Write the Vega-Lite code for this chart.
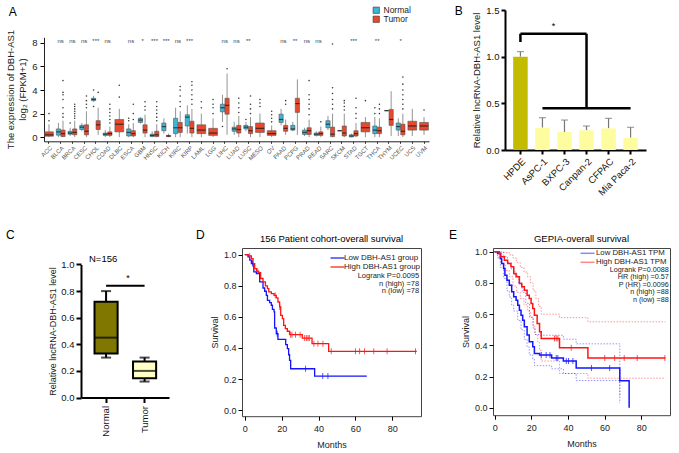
{
"$schema":"https://vega.github.io/schema/vega-lite/v6.json",
"background":"white",
"padding":{"left":5,"top":5,"right":2,"bottom":2},
"config":{
 "font":"Liberation Sans",
 "view":{"stroke":null},
 "axis":{"grid":false,"domainColor":"#000","tickColor":"#000","labelColor":"#222","titleColor":"#222","titleFontWeight":"normal","labelFontSize":9,"titleFontSize":9,"labelFont":"Liberation Sans","titleFont":"Liberation Sans"},
 "title":{"fontWeight":"normal","color":"#000","font":"Liberation Sans"},
 "legend":{"padding":0,"labelFont":"Liberation Sans","labelColor":"#222"}
},
"datasets":{
 "boxP":[
  {"cancer":"BLCA","group":"Normal","lw":0,"q1":0.17,"med":0.45,"q3":0.7,"uw":1.2},
  {"cancer":"BLCA","group":"Tumor","lw":0,"q1":0.05,"med":0.3,"q3":0.6,"uw":1.4},
  {"cancer":"BRCA","group":"Normal","lw":0.1,"q1":0.25,"med":0.35,"q3":0.5,"uw":0.8},
  {"cancer":"BRCA","group":"Tumor","lw":0,"q1":0.2,"med":0.4,"q3":0.7,"uw":1.4},
  {"cancer":"CESC","group":"Normal","lw":0.5,"q1":0.65,"med":0.85,"q3":1.0,"uw":1.2},
  {"cancer":"CESC","group":"Tumor","lw":0,"q1":0.2,"med":0.5,"q3":1.05,"uw":2.2},
  {"cancer":"CHOL","group":"Normal","lw":3.0,"q1":3.1,"med":3.2,"q3":3.3,"uw":3.5},
  {"cancer":"CHOL","group":"Tumor","lw":0.2,"q1":0.65,"med":1.05,"q3":1.4,"uw":2.5},
  {"cancer":"COAD","group":"Normal","lw":0,"q1":0.15,"med":0.25,"q3":0.35,"uw":0.6},
  {"cancer":"COAD","group":"Tumor","lw":0,"q1":0.15,"med":0.3,"q3":0.45,"uw":0.9},
  {"cancer":"ESCA","group":"Normal","lw":0,"q1":0.1,"med":0.4,"q3":0.7,"uw":1.1},
  {"cancer":"ESCA","group":"Tumor","lw":0,"q1":0.1,"med":0.3,"q3":0.55,"uw":1.2},
  {"cancer":"GBM","group":"Normal","lw":1.15,"q1":1.25,"med":1.45,"q3":1.6,"uw":1.7},
  {"cancer":"GBM","group":"Tumor","lw":0,"q1":0.35,"med":0.6,"q3":1.05,"uw":1.9},
  {"cancer":"HNSC","group":"Normal","lw":0,"q1":0.05,"med":0.15,"q3":0.25,"uw":0.5},
  {"cancer":"HNSC","group":"Tumor","lw":0,"q1":0.05,"med":0.2,"q3":0.5,"uw":1.1},
  {"cancer":"KICH","group":"Normal","lw":0.3,"q1":0.55,"med":0.9,"q3":1.2,"uw":1.6},
  {"cancer":"KICH","group":"Tumor","lw":0,"q1":0.05,"med":0.1,"q3":0.15,"uw":0.3},
  {"cancer":"KIRC","group":"Normal","lw":0,"q1":0.3,"med":0.8,"q3":1.6,"uw":2.5},
  {"cancer":"KIRC","group":"Tumor","lw":0,"q1":0.4,"med":0.8,"q3":1.25,"uw":2.2},
  {"cancer":"KIRP","group":"Normal","lw":0.3,"q1":0.95,"med":1.7,"q3":1.9,"uw":2.7},
  {"cancer":"KIRP","group":"Tumor","lw":0,"q1":0.35,"med":0.75,"q3":1.35,"uw":2.4},
  {"cancer":"LIHC","group":"Normal","lw":1.3,"q1":2.15,"med":2.5,"q3":2.8,"uw":3.6},
  {"cancer":"LIHC","group":"Tumor","lw":0.2,"q1":1.95,"med":2.7,"q3":3.3,"uw":5.4},
  {"cancer":"LUAD","group":"Normal","lw":0.2,"q1":0.5,"med":0.7,"q3":0.85,"uw":1.3},
  {"cancer":"LUAD","group":"Tumor","lw":0,"q1":0.35,"med":0.65,"q3":1.0,"uw":1.8},
  {"cancer":"LUSC","group":"Normal","lw":0.5,"q1":0.7,"med":0.85,"q3":1.0,"uw":1.3},
  {"cancer":"LUSC","group":"Tumor","lw":0,"q1":0.3,"med":0.55,"q3":0.9,"uw":1.7},
  {"cancer":"PAAD","group":"Normal","lw":1.0,"q1":1.25,"med":1.5,"q3":1.95,"uw":2.4},
  {"cancer":"PAAD","group":"Tumor","lw":0.2,"q1":0.5,"med":0.75,"q3":1.0,"uw":1.5},
  {"cancer":"PCPG","group":"Normal","lw":0.5,"q1":0.6,"med":0.7,"q3":1.0,"uw":1.3},
  {"cancer":"PCPG","group":"Tumor","lw":0.2,"q1":2.1,"med":2.85,"q3":3.3,"uw":4.9},
  {"cancer":"PRAD","group":"Normal","lw":0.1,"q1":0.23,"med":0.4,"q3":0.6,"uw":0.8},
  {"cancer":"PRAD","group":"Tumor","lw":0,"q1":0.23,"med":0.55,"q3":0.8,"uw":1.5},
  {"cancer":"READ","group":"Normal","lw":0.05,"q1":0.15,"med":0.25,"q3":0.35,"uw":0.5},
  {"cancer":"READ","group":"Tumor","lw":0,"q1":0.15,"med":0.3,"q3":0.45,"uw":0.9},
  {"cancer":"SARC","group":"Normal","lw":0.6,"q1":0.8,"med":1.1,"q3":1.4,"uw":1.8},
  {"cancer":"SARC","group":"Tumor","lw":0,"q1":0.05,"med":0.25,"q3":0.85,"uw":2.0},
  {"cancer":"SKCM","group":"Normal","lw":0.55,"q1":0.55,"med":0.55,"q3":0.55,"uw":0.55},
  {"cancer":"SKCM","group":"Tumor","lw":0,"q1":0.1,"med":0.35,"q3":0.95,"uw":2.0},
  {"cancer":"STAD","group":"Normal","lw":0,"q1":0.02,"med":0.1,"q3":0.2,"uw":0.3},
  {"cancer":"STAD","group":"Tumor","lw":0,"q1":0.1,"med":0.3,"q3":0.55,"uw":1.2},
  {"cancer":"THCA","group":"Normal","lw":0,"q1":0.3,"med":0.6,"q3":0.95,"uw":1.7},
  {"cancer":"THCA","group":"Tumor","lw":0,"q1":0.3,"med":0.55,"q3":0.85,"uw":1.6},
  {"cancer":"THYM","group":"Normal","lw":2.25,"q1":2.25,"med":2.25,"q3":2.25,"uw":2.25},
  {"cancer":"THYM","group":"Tumor","lw":0.1,"q1":1.0,"med":1.5,"q3":2.35,"uw":3.9},
  {"cancer":"UCEC","group":"Normal","lw":0.1,"q1":0.6,"med":0.9,"q3":1.2,"uw":1.6},
  {"cancer":"UCEC","group":"Tumor","lw":0,"q1":0.2,"med":0.5,"q3":1.1,"uw":2.0}
 ],
 "boxS":[
  {"cancer":"ACC","group":"Tumor","lw":0,"q1":0.08,"med":0.2,"q3":0.45,"uw":1.1},
  {"cancer":"DLBC","group":"Tumor","lw":0,"q1":0.45,"med":1.1,"q3":1.5,"uw":2.4},
  {"cancer":"LAML","group":"Tumor","lw":0,"q1":0.3,"med":0.6,"q3":1.05,"uw":2.0},
  {"cancer":"LGG","group":"Tumor","lw":0,"q1":0.15,"med":0.35,"q3":0.75,"uw":1.6},
  {"cancer":"MESO","group":"Tumor","lw":0,"q1":0.4,"med":0.75,"q3":1.2,"uw":2.0},
  {"cancer":"OV","group":"Tumor","lw":0,"q1":0.15,"med":0.3,"q3":0.55,"uw":1.0},
  {"cancer":"TGCT","group":"Tumor","lw":0,"q1":0.45,"med":0.8,"q3":1.25,"uw":1.7},
  {"cancer":"UCS","group":"Tumor","lw":0.1,"q1":0.6,"med":0.95,"q3":1.35,"uw":2.4},
  {"cancer":"UVM","group":"Tumor","lw":0.2,"q1":0.6,"med":0.95,"q3":1.25,"uw":1.7}
 ],
 "outP":[
  {"cancer":"BLCA","group":"Tumor","value":1.7},{"cancer":"BLCA","group":"Tumor","value":2.0},{"cancer":"BLCA","group":"Tumor","value":2.5},{"cancer":"BLCA","group":"Tumor","value":3.2},{"cancer":"BLCA","group":"Tumor","value":3.6},{"cancer":"BLCA","group":"Tumor","value":3.8},{"cancer":"BLCA","group":"Tumor","value":4.8},
  {"cancer":"BRCA","group":"Normal","value":1.2},
  {"cancer":"BRCA","group":"Tumor","value":1.6},{"cancer":"BRCA","group":"Tumor","value":1.8},{"cancer":"BRCA","group":"Tumor","value":2.0},{"cancer":"BRCA","group":"Tumor","value":2.2},{"cancer":"BRCA","group":"Tumor","value":2.4},{"cancer":"BRCA","group":"Tumor","value":2.6},{"cancer":"BRCA","group":"Tumor","value":2.8},
  {"cancer":"CESC","group":"Tumor","value":2.5},{"cancer":"CESC","group":"Tumor","value":2.8},{"cancer":"CESC","group":"Tumor","value":3.1},{"cancer":"CESC","group":"Tumor","value":3.5},
  {"cancer":"CHOL","group":"Normal","value":2.6},{"cancer":"CHOL","group":"Normal","value":4.0},{"cancer":"CHOL","group":"Tumor","value":3.8},
  {"cancer":"COAD","group":"Tumor","value":1.2},{"cancer":"COAD","group":"Tumor","value":1.5},{"cancer":"COAD","group":"Tumor","value":1.8},{"cancer":"COAD","group":"Tumor","value":2.1},{"cancer":"COAD","group":"Tumor","value":2.4},{"cancer":"COAD","group":"Tumor","value":2.8},
  {"cancer":"ESCA","group":"Normal","value":1.4},{"cancer":"ESCA","group":"Normal","value":1.6},{"cancer":"ESCA","group":"Tumor","value":1.5},{"cancer":"ESCA","group":"Tumor","value":2.0},{"cancer":"ESCA","group":"Tumor","value":2.8},
  {"cancer":"GBM","group":"Tumor","value":2.3},{"cancer":"GBM","group":"Tumor","value":2.6},{"cancer":"GBM","group":"Tumor","value":3.0},
  {"cancer":"HNSC","group":"Tumor","value":1.4},{"cancer":"HNSC","group":"Tumor","value":1.7},{"cancer":"HNSC","group":"Tumor","value":2.0},{"cancer":"HNSC","group":"Tumor","value":2.3},{"cancer":"HNSC","group":"Tumor","value":2.6},{"cancer":"HNSC","group":"Tumor","value":3.0},
  {"cancer":"KIRC","group":"Tumor","value":2.6},{"cancer":"KIRC","group":"Tumor","value":3.0},{"cancer":"KIRC","group":"Tumor","value":3.5},{"cancer":"KIRC","group":"Tumor","value":4.0},{"cancer":"KIRC","group":"Tumor","value":4.3},
  {"cancer":"KIRP","group":"Tumor","value":2.8},{"cancer":"KIRP","group":"Tumor","value":3.2},{"cancer":"KIRP","group":"Tumor","value":3.6},{"cancer":"KIRP","group":"Tumor","value":4.0},{"cancer":"KIRP","group":"Tumor","value":4.4},{"cancer":"KIRP","group":"Tumor","value":4.7},
  {"cancer":"LIHC","group":"Normal","value":0.9},{"cancer":"LIHC","group":"Tumor","value":5.8},
  {"cancer":"LUAD","group":"Tumor","value":2.1},{"cancer":"LUAD","group":"Tumor","value":2.5},{"cancer":"LUAD","group":"Tumor","value":2.9},{"cancer":"LUAD","group":"Tumor","value":3.3},
  {"cancer":"LUSC","group":"Normal","value":1.5},{"cancer":"LUSC","group":"Tumor","value":2.0},{"cancer":"LUSC","group":"Tumor","value":2.4},{"cancer":"LUSC","group":"Tumor","value":2.8},{"cancer":"LUSC","group":"Tumor","value":3.5},
  {"cancer":"PAAD","group":"Tumor","value":2.8},{"cancer":"PAAD","group":"Tumor","value":3.1},
  {"cancer":"PRAD","group":"Tumor","value":1.9},{"cancer":"PRAD","group":"Tumor","value":2.4},{"cancer":"PRAD","group":"Tumor","value":2.8},{"cancer":"PRAD","group":"Tumor","value":3.2},{"cancer":"PRAD","group":"Tumor","value":3.6},{"cancer":"PRAD","group":"Tumor","value":4.8},
  {"cancer":"READ","group":"Tumor","value":1.3},
  {"cancer":"SARC","group":"Tumor","value":2.4},{"cancer":"SARC","group":"Tumor","value":2.8},{"cancer":"SARC","group":"Tumor","value":3.2},{"cancer":"SARC","group":"Tumor","value":3.7},{"cancer":"SARC","group":"Tumor","value":4.2},{"cancer":"SARC","group":"Tumor","value":7.9},
  {"cancer":"SKCM","group":"Tumor","value":2.3},{"cancer":"SKCM","group":"Tumor","value":2.6},{"cancer":"SKCM","group":"Tumor","value":2.9},{"cancer":"SKCM","group":"Tumor","value":3.1},
  {"cancer":"STAD","group":"Tumor","value":1.6},{"cancer":"STAD","group":"Tumor","value":2.0},{"cancer":"STAD","group":"Tumor","value":2.5},{"cancer":"STAD","group":"Tumor","value":3.3},
  {"cancer":"THCA","group":"Normal","value":2.0},{"cancer":"THCA","group":"Normal","value":2.5},{"cancer":"THCA","group":"Tumor","value":2.0},{"cancer":"THCA","group":"Tumor","value":2.4},{"cancer":"THCA","group":"Tumor","value":2.8},
  {"cancer":"UCEC","group":"Tumor","value":2.4},{"cancer":"UCEC","group":"Tumor","value":2.8},{"cancer":"UCEC","group":"Tumor","value":3.2},{"cancer":"UCEC","group":"Tumor","value":3.6},{"cancer":"UCEC","group":"Tumor","value":4.0},{"cancer":"UCEC","group":"Tumor","value":4.5},{"cancer":"UCEC","group":"Tumor","value":5.1}
 ],
 "outS":[
  {"cancer":"ACC","value":1.4},{"cancer":"ACC","value":2.0},
  {"cancer":"DLBC","value":3.4},{"cancer":"DLBC","value":4.4},
  {"cancer":"LAML","value":2.5},{"cancer":"LAML","value":3.0},
  {"cancer":"LGG","value":2.0},{"cancer":"LGG","value":2.5},{"cancer":"LGG","value":2.8},{"cancer":"LGG","value":3.2},
  {"cancer":"MESO","value":2.6},{"cancer":"MESO","value":2.9},{"cancer":"MESO","value":3.2},
  {"cancer":"OV","value":1.3},{"cancer":"OV","value":1.6},{"cancer":"OV","value":1.9},{"cancer":"OV","value":2.2},
  {"cancer":"TGCT","value":3.1},
  {"cancer":"UVM","value":2.3}
 ],
 "sigA":[
  {"cancer":"BLCA","sig":"ns"},{"cancer":"BRCA","sig":"ns"},{"cancer":"CESC","sig":"ns"},{"cancer":"CHOL","sig":"***"},{"cancer":"COAD","sig":"ns"},{"cancer":"ESCA","sig":"ns"},{"cancer":"GBM","sig":"*"},{"cancer":"HNSC","sig":"***"},{"cancer":"KICH","sig":"***"},{"cancer":"KIRC","sig":"ns"},{"cancer":"KIRP","sig":"***"},{"cancer":"LIHC","sig":"ns"},{"cancer":"LUAD","sig":"ns"},{"cancer":"LUSC","sig":"**"},{"cancer":"PAAD","sig":"ns"},{"cancer":"PCPG","sig":"**"},{"cancer":"PRAD","sig":"ns"},{"cancer":"READ","sig":"ns"},{"cancer":"STAD","sig":"***"},{"cancer":"THCA","sig":"**"},{"cancer":"UCEC","sig":"*"}
 ],
 "barB":[
  {"cell":"HPDE","value":1.0,"upper":1.054},
  {"cell":"AsPC-1","value":0.239,"upper":0.346},
  {"cell":"BXPC-3","value":0.193,"upper":0.321},
  {"cell":"Canpan-2","value":0.211,"upper":0.257},
  {"cell":"CFPAC","value":0.232,"upper":0.339},
  {"cell":"Mia Paca-2","value":0.132,"upper":0.243}
 ],
 "bracketB":[
  {"from":"HPDE","to":"HPDE","y1":1.157,"y2":1.246},
  {"from":"HPDE","to":"Canpan-2","y1":1.246,"y2":1.246},
  {"from":"Canpan-2","to":"Canpan-2","y1":1.246,"y2":0.446},
  {"from":"AsPC-1","to":"Mia Paca-2","y1":0.446,"y2":0.446}
 ],
 "boxC":[
  {"group":"Normal","lw":0.30,"q1":0.33,"med":0.45,"q3":0.72,"uw":0.80},
  {"group":"Tumor","lw":0.12,"q1":0.145,"med":0.20,"q3":0.27,"uw":0.30}
 ],
 "kmD":[
  {"group":"Low DBH-AS1 group","month":0,"surv":1.0},{"group":"Low DBH-AS1 group","month":1.8,"surv":0.985},{"group":"Low DBH-AS1 group","month":2.7,"surv":0.964},{"group":"Low DBH-AS1 group","month":3.6,"surv":0.942},{"group":"Low DBH-AS1 group","month":4.9,"surv":0.888},{"group":"Low DBH-AS1 group","month":6.3,"surv":0.878},{"group":"Low DBH-AS1 group","month":8.1,"surv":0.824},{"group":"Low DBH-AS1 group","month":9.9,"surv":0.785},{"group":"Low DBH-AS1 group","month":10.8,"surv":0.764},{"group":"Low DBH-AS1 group","month":11.7,"surv":0.738},{"group":"Low DBH-AS1 group","month":12.3,"surv":0.706},{"group":"Low DBH-AS1 group","month":13.5,"surv":0.691},{"group":"Low DBH-AS1 group","month":14.4,"surv":0.674},{"group":"Low DBH-AS1 group","month":15.0,"surv":0.648},{"group":"Low DBH-AS1 group","month":15.9,"surv":0.631},{"group":"Low DBH-AS1 group","month":16.2,"surv":0.528},{"group":"Low DBH-AS1 group","month":17.1,"surv":0.491},{"group":"Low DBH-AS1 group","month":18.0,"surv":0.455},{"group":"Low DBH-AS1 group","month":22.2,"surv":0.421},{"group":"Low DBH-AS1 group","month":23.1,"surv":0.395},{"group":"Low DBH-AS1 group","month":23.8,"surv":0.356},{"group":"Low DBH-AS1 group","month":24.3,"surv":0.32},{"group":"Low DBH-AS1 group","month":24.9,"surv":0.266},{"group":"Low DBH-AS1 group","month":37.9,"surv":0.219},{"group":"Low DBH-AS1 group","month":66.2,"surv":0.219},
  {"group":"High DBH-AS1 group","month":0,"surv":1.0},{"group":"High DBH-AS1 group","month":1.8,"surv":0.991},{"group":"High DBH-AS1 group","month":3.6,"surv":0.974},{"group":"High DBH-AS1 group","month":4.5,"surv":0.942},{"group":"High DBH-AS1 group","month":5.4,"surv":0.91},{"group":"High DBH-AS1 group","month":6.3,"surv":0.893},{"group":"High DBH-AS1 group","month":7.6,"surv":0.884},{"group":"High DBH-AS1 group","month":8.6,"surv":0.846},{"group":"High DBH-AS1 group","month":9.9,"surv":0.824},{"group":"High DBH-AS1 group","month":11.2,"surv":0.799},{"group":"High DBH-AS1 group","month":12.3,"surv":0.781},{"group":"High DBH-AS1 group","month":13.0,"surv":0.76},{"group":"High DBH-AS1 group","month":14.4,"surv":0.749},{"group":"High DBH-AS1 group","month":15.9,"surv":0.738},{"group":"High DBH-AS1 group","month":17.1,"surv":0.721},{"group":"High DBH-AS1 group","month":18.0,"surv":0.695},{"group":"High DBH-AS1 group","month":18.9,"surv":0.663},{"group":"High DBH-AS1 group","month":19.5,"surv":0.609},{"group":"High DBH-AS1 group","month":20.4,"surv":0.588},{"group":"High DBH-AS1 group","month":21.1,"surv":0.545},{"group":"High DBH-AS1 group","month":22.0,"surv":0.524},{"group":"High DBH-AS1 group","month":23.1,"surv":0.507},{"group":"High DBH-AS1 group","month":24.3,"surv":0.485},{"group":"High DBH-AS1 group","month":31.2,"surv":0.463},{"group":"High DBH-AS1 group","month":36.5,"surv":0.427},{"group":"High DBH-AS1 group","month":45.5,"surv":0.378},{"group":"High DBH-AS1 group","month":93.3,"surv":0.378}
 ],
 "censD":[
  {"group":"Low DBH-AS1 group","month":4.2,"surv":0.942},{"group":"Low DBH-AS1 group","month":17.6,"surv":0.491},{"group":"Low DBH-AS1 group","month":33.0,"surv":0.266},{"group":"Low DBH-AS1 group","month":42.3,"surv":0.219},{"group":"Low DBH-AS1 group","month":45.1,"surv":0.219},
  {"group":"High DBH-AS1 group","month":2.7,"surv":0.991},{"group":"High DBH-AS1 group","month":7.0,"surv":0.893},{"group":"High DBH-AS1 group","month":16.5,"surv":0.738},{"group":"High DBH-AS1 group","month":19.0,"surv":0.663},{"group":"High DBH-AS1 group","month":24.9,"surv":0.485},{"group":"High DBH-AS1 group","month":25.6,"surv":0.485},{"group":"High DBH-AS1 group","month":27.5,"surv":0.485},{"group":"High DBH-AS1 group","month":30.0,"surv":0.485},{"group":"High DBH-AS1 group","month":32.5,"surv":0.463},{"group":"High DBH-AS1 group","month":33.4,"surv":0.463},{"group":"High DBH-AS1 group","month":34.3,"surv":0.463},{"group":"High DBH-AS1 group","month":35.0,"surv":0.463},{"group":"High DBH-AS1 group","month":37.5,"surv":0.427},{"group":"High DBH-AS1 group","month":39.7,"surv":0.427},{"group":"High DBH-AS1 group","month":42.4,"surv":0.427},{"group":"High DBH-AS1 group","month":46.9,"surv":0.378},{"group":"High DBH-AS1 group","month":60.1,"surv":0.378},{"group":"High DBH-AS1 group","month":62.3,"surv":0.378},{"group":"High DBH-AS1 group","month":65.0,"surv":0.378},{"group":"High DBH-AS1 group","month":70.0,"surv":0.378},{"group":"High DBH-AS1 group","month":77.2,"surv":0.378},{"group":"High DBH-AS1 group","month":92.6,"surv":0.378}
 ],
 "kmE":[
  {"group":"Low DBH-AS1 TPM","month":0,"surv":1.0},{"group":"Low DBH-AS1 TPM","month":1.6,"surv":0.989},{"group":"Low DBH-AS1 TPM","month":3.1,"surv":0.957},{"group":"Low DBH-AS1 TPM","month":3.8,"surv":0.925},{"group":"Low DBH-AS1 TPM","month":4.9,"surv":0.893},{"group":"Low DBH-AS1 TPM","month":5.6,"surv":0.85},{"group":"Low DBH-AS1 TPM","month":6.7,"surv":0.818},{"group":"Low DBH-AS1 TPM","month":8.0,"surv":0.786},{"group":"Low DBH-AS1 TPM","month":9.3,"surv":0.743},{"group":"Low DBH-AS1 TPM","month":10.4,"surv":0.711},{"group":"Low DBH-AS1 TPM","month":11.7,"surv":0.69},{"group":"Low DBH-AS1 TPM","month":12.6,"surv":0.658},{"group":"Low DBH-AS1 TPM","month":13.5,"surv":0.626},{"group":"Low DBH-AS1 TPM","month":14.4,"surv":0.594},{"group":"Low DBH-AS1 TPM","month":15.3,"surv":0.562},{"group":"Low DBH-AS1 TPM","month":16.2,"surv":0.519},{"group":"Low DBH-AS1 TPM","month":17.7,"surv":0.466},{"group":"Low DBH-AS1 TPM","month":18.9,"surv":0.423},{"group":"Low DBH-AS1 TPM","month":20.8,"surv":0.391},{"group":"Low DBH-AS1 TPM","month":21.7,"surv":0.348},{"group":"Low DBH-AS1 TPM","month":24.5,"surv":0.338},{"group":"Low DBH-AS1 TPM","month":31.1,"surv":0.32},{"group":"Low DBH-AS1 TPM","month":37.5,"surv":0.3},{"group":"Low DBH-AS1 TPM","month":44.5,"surv":0.255},{"group":"Low DBH-AS1 TPM","month":68.3,"surv":0.173},{"group":"Low DBH-AS1 TPM","month":73.4,"surv":0.0},
  {"group":"High DBH-AS1 TPM","month":0,"surv":1.0},{"group":"High DBH-AS1 TPM","month":2.5,"surv":0.989},{"group":"High DBH-AS1 TPM","month":3.4,"surv":0.968},{"group":"High DBH-AS1 TPM","month":5.3,"surv":0.946},{"group":"High DBH-AS1 TPM","month":7.1,"surv":0.925},{"group":"High DBH-AS1 TPM","month":8.9,"surv":0.904},{"group":"High DBH-AS1 TPM","month":10.4,"surv":0.861},{"group":"High DBH-AS1 TPM","month":11.7,"surv":0.84},{"group":"High DBH-AS1 TPM","month":13.5,"surv":0.797},{"group":"High DBH-AS1 TPM","month":14.8,"surv":0.776},{"group":"High DBH-AS1 TPM","month":16.2,"surv":0.754},{"group":"High DBH-AS1 TPM","month":17.7,"surv":0.722},{"group":"High DBH-AS1 TPM","month":18.9,"surv":0.701},{"group":"High DBH-AS1 TPM","month":19.9,"surv":0.669},{"group":"High DBH-AS1 TPM","month":20.8,"surv":0.637},{"group":"High DBH-AS1 TPM","month":21.7,"surv":0.594},{"group":"High DBH-AS1 TPM","month":23.2,"surv":0.541},{"group":"High DBH-AS1 TPM","month":24.5,"surv":0.487},{"group":"High DBH-AS1 TPM","month":25.4,"surv":0.444},{"group":"High DBH-AS1 TPM","month":35.4,"surv":0.385},{"group":"High DBH-AS1 TPM","month":50.9,"surv":0.32},{"group":"High DBH-AS1 TPM","month":93.2,"surv":0.32}
 ],
 "censE":[
  {"group":"Low DBH-AS1 TPM","month":25.4,"surv":0.338},{"group":"Low DBH-AS1 TPM","month":28.1,"surv":0.338},{"group":"Low DBH-AS1 TPM","month":30.2,"surv":0.338},{"group":"Low DBH-AS1 TPM","month":33.6,"surv":0.32},{"group":"Low DBH-AS1 TPM","month":34.5,"surv":0.32},{"group":"Low DBH-AS1 TPM","month":39.1,"surv":0.3},{"group":"Low DBH-AS1 TPM","month":40.3,"surv":0.3},{"group":"Low DBH-AS1 TPM","month":42.7,"surv":0.3},{"group":"Low DBH-AS1 TPM","month":52.8,"surv":0.255},{"group":"Low DBH-AS1 TPM","month":62.8,"surv":0.255},
  {"group":"High DBH-AS1 TPM","month":32.7,"surv":0.444},{"group":"High DBH-AS1 TPM","month":33.6,"surv":0.444},{"group":"High DBH-AS1 TPM","month":34.5,"surv":0.444},{"group":"High DBH-AS1 TPM","month":41.8,"surv":0.385},{"group":"High DBH-AS1 TPM","month":60.1,"surv":0.32},{"group":"High DBH-AS1 TPM","month":65.5,"surv":0.32},{"group":"High DBH-AS1 TPM","month":70.7,"surv":0.32},{"group":"High DBH-AS1 TPM","month":77.8,"surv":0.32},{"group":"High DBH-AS1 TPM","month":92.9,"surv":0.32}
 ],
 "ciE":[
  {"group":"High DBH-AS1 TPM","bound":"upper","month":0,"surv":1.0},{"group":"High DBH-AS1 TPM","bound":"upper","month":5,"surv":0.995},{"group":"High DBH-AS1 TPM","bound":"upper","month":8,"surv":0.98},{"group":"High DBH-AS1 TPM","bound":"upper","month":10,"surv":0.96},{"group":"High DBH-AS1 TPM","bound":"upper","month":12,"surv":0.93},{"group":"High DBH-AS1 TPM","bound":"upper","month":14,"surv":0.9},{"group":"High DBH-AS1 TPM","bound":"upper","month":16,"surv":0.87},{"group":"High DBH-AS1 TPM","bound":"upper","month":18,"surv":0.84},{"group":"High DBH-AS1 TPM","bound":"upper","month":19.5,"surv":0.8},{"group":"High DBH-AS1 TPM","bound":"upper","month":21,"surv":0.75},{"group":"High DBH-AS1 TPM","bound":"upper","month":22.5,"surv":0.7},{"group":"High DBH-AS1 TPM","bound":"upper","month":24,"surv":0.65},{"group":"High DBH-AS1 TPM","bound":"upper","month":25.4,"surv":0.6},{"group":"High DBH-AS1 TPM","bound":"upper","month":35.4,"surv":0.578},{"group":"High DBH-AS1 TPM","bound":"upper","month":50.9,"surv":0.551},{"group":"High DBH-AS1 TPM","bound":"upper","month":93.2,"surv":0.551},
  {"group":"High DBH-AS1 TPM","bound":"lower","month":0,"surv":1.0},{"group":"High DBH-AS1 TPM","bound":"lower","month":2.5,"surv":0.96},{"group":"High DBH-AS1 TPM","bound":"lower","month":4,"surv":0.92},{"group":"High DBH-AS1 TPM","bound":"lower","month":6,"surv":0.88},{"group":"High DBH-AS1 TPM","bound":"lower","month":8,"surv":0.84},{"group":"High DBH-AS1 TPM","bound":"lower","month":10,"surv":0.78},{"group":"High DBH-AS1 TPM","bound":"lower","month":12,"surv":0.74},{"group":"High DBH-AS1 TPM","bound":"lower","month":14,"surv":0.7},{"group":"High DBH-AS1 TPM","bound":"lower","month":16,"surv":0.66},{"group":"High DBH-AS1 TPM","bound":"lower","month":18,"surv":0.62},{"group":"High DBH-AS1 TPM","bound":"lower","month":19.5,"surv":0.58},{"group":"High DBH-AS1 TPM","bound":"lower","month":21,"surv":0.52},{"group":"High DBH-AS1 TPM","bound":"lower","month":22,"surv":0.47},{"group":"High DBH-AS1 TPM","bound":"lower","month":23.5,"surv":0.42},{"group":"High DBH-AS1 TPM","bound":"lower","month":24.5,"surv":0.37},{"group":"High DBH-AS1 TPM","bound":"lower","month":25.4,"surv":0.3},{"group":"High DBH-AS1 TPM","bound":"lower","month":35.4,"surv":0.22},{"group":"High DBH-AS1 TPM","bound":"lower","month":50.9,"surv":0.19},{"group":"High DBH-AS1 TPM","bound":"lower","month":93.2,"surv":0.19},
  {"group":"Low DBH-AS1 TPM","bound":"upper","month":0,"surv":1.0},{"group":"Low DBH-AS1 TPM","bound":"upper","month":3,"surv":0.995},{"group":"Low DBH-AS1 TPM","bound":"upper","month":5,"surv":0.97},{"group":"Low DBH-AS1 TPM","bound":"upper","month":7,"surv":0.93},{"group":"Low DBH-AS1 TPM","bound":"upper","month":9,"surv":0.89},{"group":"Low DBH-AS1 TPM","bound":"upper","month":11,"surv":0.85},{"group":"Low DBH-AS1 TPM","bound":"upper","month":13,"surv":0.8},{"group":"Low DBH-AS1 TPM","bound":"upper","month":15,"surv":0.74},{"group":"Low DBH-AS1 TPM","bound":"upper","month":17,"surv":0.67},{"group":"Low DBH-AS1 TPM","bound":"upper","month":19,"surv":0.58},{"group":"Low DBH-AS1 TPM","bound":"upper","month":21,"surv":0.51},{"group":"Low DBH-AS1 TPM","bound":"upper","month":22,"surv":0.47},{"group":"Low DBH-AS1 TPM","bound":"upper","month":24.5,"surv":0.465},{"group":"Low DBH-AS1 TPM","bound":"upper","month":37.5,"surv":0.44},{"group":"Low DBH-AS1 TPM","bound":"upper","month":44.5,"surv":0.41},{"group":"Low DBH-AS1 TPM","bound":"upper","month":68.3,"surv":0.03},
  {"group":"Low DBH-AS1 TPM","bound":"lower","month":0,"surv":1.0},{"group":"Low DBH-AS1 TPM","bound":"lower","month":1.6,"surv":0.96},{"group":"Low DBH-AS1 TPM","bound":"lower","month":3.1,"surv":0.9},{"group":"Low DBH-AS1 TPM","bound":"lower","month":4.9,"surv":0.83},{"group":"Low DBH-AS1 TPM","bound":"lower","month":6.7,"surv":0.75},{"group":"Low DBH-AS1 TPM","bound":"lower","month":8,"surv":0.71},{"group":"Low DBH-AS1 TPM","bound":"lower","month":9.3,"surv":0.66},{"group":"Low DBH-AS1 TPM","bound":"lower","month":10.4,"surv":0.62},{"group":"Low DBH-AS1 TPM","bound":"lower","month":12.6,"surv":0.56},{"group":"Low DBH-AS1 TPM","bound":"lower","month":14.4,"surv":0.5},{"group":"Low DBH-AS1 TPM","bound":"lower","month":16.2,"surv":0.44},{"group":"Low DBH-AS1 TPM","bound":"lower","month":17.7,"surv":0.39},{"group":"Low DBH-AS1 TPM","bound":"lower","month":18.9,"surv":0.34},{"group":"Low DBH-AS1 TPM","bound":"lower","month":20.8,"surv":0.31},{"group":"Low DBH-AS1 TPM","bound":"lower","month":21.7,"surv":0.27},{"group":"Low DBH-AS1 TPM","bound":"lower","month":31.1,"surv":0.25},{"group":"Low DBH-AS1 TPM","bound":"lower","month":37.5,"surv":0.22},{"group":"Low DBH-AS1 TPM","bound":"lower","month":44.5,"surv":0.175},{"group":"Low DBH-AS1 TPM","bound":"lower","month":68.3,"surv":0.07}
 ]
},
"spacing":31,
"resolve":{"scale":{"color":"independent"},"legend":{"color":"independent"}},
"vconcat":[
 {"spacing":25,"resolve":{"scale":{"color":"independent"},"legend":{"color":"independent"}},"hconcat":[
  {
   "width":385,"height":131.3,
   "title":{"text":"A","anchor":"start","frame":"bounds","fontSize":12,"offset":-13,"dx":3},
   "encoding":{"x":{"field":"cancer","type":"nominal","scale":{"domain":["ACC","BLCA","BRCA","CESC","CHOL","COAD","DLBC","ESCA","GBM","HNSC","KICH","KIRC","KIRP","LAML","LGG","LIHC","LUAD","LUSC","MESO","OV","PAAD","PCPG","PRAD","READ","SARC","SKCM","STAD","TGCT","THCA","THYM","UCEC","UCS","UVM"],"paddingInner":0.25,"paddingOuter":0.05},"axis":{"title":null,"labelAngle":-45,"labelAlign":"right","labelBaseline":"top","labelFontSize":6,"labelColor":"#555","tickSize":2,"tickColor":"#333","labelPadding":1,"domainColor":"#222"}}},
   "layer":[
    {"data":{"name":"boxP"},
     "encoding":{"xOffset":{"field":"group","type":"nominal","scale":{"domain":["Normal","Tumor"],"paddingInner":0.08}},
       "y":{"field":"lw","type":"quantitative","scale":{"domain":[-0.35,10.79],"nice":false,"zero":false},"axis":{"values":[0,2,4,6,8],"title":["The expression of DBH-AS1","log₂ (FPKM+1)"],"titleFontSize":9.5,"titleLineHeight":12,"labelFontSize":9.5,"tickSize":4,"labelPadding":3,"titlePadding":4,"domainColor":"#222","domainDash":[104,100],"titleY":79}}},
     "layer":[
      {"mark":{"type":"rule","color":"#666","strokeWidth":0.7},"encoding":{"y2":{"field":"uw"}}},
      {"mark":{"type":"bar","stroke":"#555","strokeWidth":0.6},"encoding":{"y":{"field":"q1"},"y2":{"field":"q3"},"color":{"field":"group","type":"nominal","scale":{"domain":["Normal","Tumor"],"range":["#3db5d4","#e8482c"]},"legend":{"orient":"none","legendX":328,"legendY":-4,"title":null,"symbolType":"square","symbolSize":40,"labelFontSize":8.5,"rowPadding":-1,"labelOffset":3,"symbolStrokeColor":"#333","symbolStrokeWidth":0.6}}}},
      {"mark":{"type":"tick","color":"#111","thickness":1.2,"size":4.2},"encoding":{"y":{"field":"med"}}},
      {"data":{"name":"outP"},"mark":{"type":"circle","size":2.5,"color":"#222","opacity":0.9},"encoding":{"y":{"field":"value"}}}
     ]},
    {"data":{"name":"boxS"},
     "encoding":{"y":{"field":"lw","type":"quantitative","scale":{"domain":[-0.35,10.79],"nice":false,"zero":false},"axis":{"values":[0,2,4,6,8],"title":["The expression of DBH-AS1","log₂ (FPKM+1)"],"titleFontSize":9.5,"titleLineHeight":12,"labelFontSize":9.5,"tickSize":4,"labelPadding":3,"titlePadding":4,"domainColor":"#222","domainDash":[104,100],"titleY":79}}},
     "layer":[
      {"mark":{"type":"rule","color":"#666","strokeWidth":0.7},"encoding":{"y2":{"field":"uw"}}},
      {"mark":{"type":"bar","stroke":"#555","strokeWidth":0.6},"encoding":{"y":{"field":"q1"},"y2":{"field":"q3"},"color":{"field":"group","type":"nominal","scale":{"domain":["Normal","Tumor"],"range":["#3db5d4","#e8482c"]},"legend":{"orient":"none","legendX":328,"legendY":-4,"title":null,"symbolType":"square","symbolSize":40,"labelFontSize":8.5,"rowPadding":-1,"labelOffset":3,"symbolStrokeColor":"#333","symbolStrokeWidth":0.6}}}},
      {"mark":{"type":"tick","color":"#111","thickness":1.2,"size":8.6},"encoding":{"y":{"field":"med"}}},
      {"data":{"name":"outS"},"mark":{"type":"circle","size":2.5,"color":"#222","opacity":0.9},"encoding":{"y":{"field":"value"}}}
     ]},
    {"data":{"name":"sigA"},"mark":{"type":"text","fontSize":6,"color":"#444"},"encoding":{"y":{"datum":8.2,"type":"quantitative","scale":{"domain":[-0.35,10.79],"nice":false,"zero":false},"axis":{"values":[0,2,4,6,8],"title":["The expression of DBH-AS1","log₂ (FPKM+1)"],"titleFontSize":9.5,"titleLineHeight":12,"labelFontSize":9.5,"tickSize":4,"labelPadding":3,"titlePadding":4,"domainColor":"#222","domainDash":[104,100],"titleY":79}},"text":{"field":"sig"}}}
   ]
  },
  {
   "width":141,"height":140,
   "title":{"text":"B","anchor":"start","frame":"bounds","fontSize":12,"offset":-13,"dx":-17},
   "layer":[
    {"data":{"name":"barB"},
     "encoding":{
      "x":{"field":"cell","type":"nominal","scale":{"domain":["HPDE","AsPC-1","BXPC-3","Canpan-2","CFPAC","Mia Paca-2"],"paddingInner":0.34,"paddingOuter":0.37},"axis":{"title":null,"labelAngle":-45,"labelAlign":"right","labelBaseline":"top","labelFontSize":9.5,"labelColor":"#111","domainWidth":2,"tickWidth":2,"tickSize":4,"labelPadding":2}},
      "y":{"field":"value","type":"quantitative","scale":{"domain":[0,1.5],"nice":false},"axis":{"values":[0,0.5,1,1.5],"format":".1f","title":"Relative lncRNA-DBH-AS1 level","titleFontSize":9.5,"labelFontSize":9.5,"labelColor":"#111","domainWidth":2,"tickWidth":2,"tickSize":4,"titlePadding":4}}
     },
     "layer":[
      {"mark":{"type":"rule","color":"#777","strokeWidth":1.2},"encoding":{"y2":{"field":"upper"}}},
      {"mark":{"type":"bar"},"encoding":{"color":{"field":"cell","type":"nominal","scale":{"domain":["HPDE","AsPC-1","BXPC-3","Canpan-2","CFPAC","Mia Paca-2"],"range":["#c2bb00","#fdfd9f","#fdfd9f","#fdfd9f","#fdfd9f","#fdfd9f"]},"legend":null}}},
      {"mark":{"type":"tick","color":"#777","thickness":1.2,"size":7},"encoding":{"y":{"field":"upper"}}},
      {"data":{"name":"bracketB"},"mark":{"type":"rule","color":"#000","strokeWidth":2.5},"encoding":{"x":{"field":"from"},"x2":{"field":"to"},"y":{"field":"y1"},"y2":{"field":"y2"}}}
     ]},
    {"data":{"values":[{}]},"mark":{"type":"text","text":"*","dx":11,"fontSize":9,"baseline":"middle"},"encoding":{
      "x":{"datum":"AsPC-1","type":"nominal","scale":{"domain":["HPDE","AsPC-1","BXPC-3","Canpan-2","CFPAC","Mia Paca-2"],"paddingInner":0.34,"paddingOuter":0.37},"axis":{"title":null,"labelAngle":-45,"labelAlign":"right","labelBaseline":"top","labelFontSize":9.5,"labelColor":"#111","domainWidth":2,"tickWidth":2,"tickSize":4,"labelPadding":2}},
      "y":{"datum":1.33,"type":"quantitative","scale":{"domain":[0,1.5],"nice":false},"axis":{"values":[0,0.5,1,1.5],"format":".1f","title":"Relative lncRNA-DBH-AS1 level","titleFontSize":9.5,"labelFontSize":9.5,"labelColor":"#111","domainWidth":2,"tickWidth":2,"tickSize":4,"titlePadding":4}}}}
   ]
  }
 ]},
 {"spacing":26,"resolve":{"scale":{"color":"independent"},"legend":{"color":"independent"}},"hconcat":[
  {
   "title":{"text":"C","anchor":"start","frame":"bounds","fontSize":12,"dx":-38,"offset":6.5},
   "vconcat":[{
    "width":125,"height":149.5,
    "title":{"text":"N=156","anchor":"start","frame":"group","fontSize":9.5,"dx":45,"offset":-15},
    "layer":[
     {"data":{"name":"boxC"},
      "encoding":{
       "x":{"field":"group","type":"nominal","scale":{"domain":["Normal","Tumor"],"paddingInner":0.4,"paddingOuter":0.823,"align":0.797},"axis":{"title":null,"labelAngle":-90,"labelAlign":"right","labelBaseline":"middle","labelFontSize":9.5,"labelColor":"#111","domainWidth":2,"domainDash":[0,37,88,200],"tickWidth":2,"tickSize":5,"labelPadding":3}},
       "y":{"field":"lw","type":"quantitative","scale":{"domain":[0,1.124],"nice":false},"axis":{"values":[0,0.2,0.4,0.6,0.8,1.0],"format":".1f","title":"Relative lncRNA-DBH-AS1 level","titleFontSize":9,"titleY":83,"labelFontSize":9.5,"labelColor":"#111","domainWidth":2,"domainDash":[133,100],"tickWidth":2,"tickSize":5,"titlePadding":3,"offset":-37}}
      },
      "layer":[
       {"mark":{"type":"rule","color":"#000","strokeWidth":2},"encoding":{"y2":{"field":"uw"}}},
       {"mark":{"type":"tick","color":"#000","thickness":2,"size":10}},
       {"mark":{"type":"tick","color":"#000","thickness":2,"size":10},"encoding":{"y":{"field":"uw"}}},
       {"mark":{"type":"bar","stroke":"#000","strokeWidth":2},"encoding":{"y":{"field":"q1"},"y2":{"field":"q3"},"color":{"field":"group","type":"nominal","scale":{"domain":["Normal","Tumor"],"range":["#7f7700","#ffffc6"]},"legend":null}}},
       {"mark":{"type":"tick","color":"#000","thickness":2,"size":23},"encoding":{"y":{"field":"med"}}}
      ]},
     {"data":{"values":[{}]},"mark":{"type":"rule","strokeWidth":2,"color":"#000"},"encoding":{
       "x":{"datum":"Normal","type":"nominal","scale":{"domain":["Normal","Tumor"],"paddingInner":0.4,"paddingOuter":0.823,"align":0.797},"axis":{"title":null,"labelAngle":-90,"labelAlign":"right","labelBaseline":"middle","labelFontSize":9.5,"labelColor":"#111","domainWidth":2,"domainDash":[0,37,88,200],"tickWidth":2,"tickSize":5,"labelPadding":3}},
       "x2":{"datum":"Tumor"},
       "y":{"datum":0.84,"type":"quantitative","scale":{"domain":[0,1.124],"nice":false},"axis":{"values":[0,0.2,0.4,0.6,0.8,1.0],"format":".1f","title":"Relative lncRNA-DBH-AS1 level","titleFontSize":9,"titleY":83,"labelFontSize":9.5,"labelColor":"#111","domainWidth":2,"domainDash":[133,100],"tickWidth":2,"tickSize":5,"titlePadding":3,"offset":-37}}}},
     {"data":{"values":[{}]},"mark":{"type":"text","text":"*","fontSize":9,"dx":22,"baseline":"middle"},"encoding":{
       "x":{"datum":"Normal","type":"nominal","scale":{"domain":["Normal","Tumor"],"paddingInner":0.4,"paddingOuter":0.823,"align":0.797},"axis":{"title":null,"labelAngle":-90,"labelAlign":"right","labelBaseline":"middle","labelFontSize":9.5,"labelColor":"#111","domainWidth":2,"domainDash":[0,37,88,200],"tickWidth":2,"tickSize":5,"labelPadding":3}},
       "y":{"datum":0.895,"type":"quantitative","scale":{"domain":[0,1.124],"nice":false},"axis":{"values":[0,0.2,0.4,0.6,0.8,1.0],"format":".1f","title":"Relative lncRNA-DBH-AS1 level","titleFontSize":9,"titleY":83,"labelFontSize":9.5,"labelColor":"#111","domainWidth":2,"domainDash":[133,100],"tickWidth":2,"tickSize":5,"titlePadding":3,"offset":-37}}}}
    ]
   }]
  },
  {
   "title":{"text":"D","anchor":"start","frame":"bounds","fontSize":12,"dx":-14,"offset":-8},
   "vconcat":[{
    "width":179,"height":168.2,
    "title":{"text":"156 Patient cohort-overall survival","fontSize":9.5,"offset":4.2},
    "view":{"stroke":"#444","strokeWidth":1},
    "layer":[
     {"encoding":{
       "x":{"field":"month","type":"quantitative","scale":{"domain":[-1.5,95.6],"nice":false,"zero":false},"axis":{"values":[0,20,40,60,80],"title":"Months","domain":false,"tickSize":4,"labelPadding":4,"titlePadding":7}},
       "y":{"field":"surv","type":"quantitative","scale":{"domain":[-0.039,1.042],"nice":false,"zero":false},"axis":{"values":[0,0.2,0.4,0.6,0.8,1.0],"format":".1f","title":"Survival","domain":false,"tickSize":4,"titlePadding":4}},
       "color":{"field":"group","type":"nominal","scale":{"domain":["Low DBH-AS1 group","High DBH-AS1 group"],"range":["#1414ff","#ff1414"]},"legend":{"orient":"none","legendX":91,"legendY":5.5,"title":null,"symbolType":"M-2,0H2","symbolStrokeWidth":1.5,"symbolSize":49,"labelFontSize":8,"rowPadding":-1,"labelOffset":2}}
      },
      "layer":[
       {"data":{"name":"kmD"},"mark":{"type":"line","interpolate":"step-after","strokeWidth":1.3}},
       {"data":{"name":"censD"},"mark":{"type":"tick","orient":"vertical","size":6,"thickness":0.9,"opacity":0.8}}
      ]},
     {"data":{"values":[{}]},"mark":{"type":"text","align":"right","baseline":"top","fontSize":7.5,"lineHeight":7.6,"color":"#222","text":["Logrank P=0.0095","n (high) =78","n (low) =78"]},"encoding":{
       "x":{"datum":94.6,"type":"quantitative","scale":{"domain":[-1.5,95.6],"nice":false,"zero":false},"axis":{"values":[0,20,40,60,80],"title":"Months","domain":false,"tickSize":4,"labelPadding":4,"titlePadding":7}},
       "y":{"datum":0.887,"type":"quantitative","scale":{"domain":[-0.039,1.042],"nice":false,"zero":false},"axis":{"values":[0,0.2,0.4,0.6,0.8,1.0],"format":".1f","title":"Survival","domain":false,"tickSize":4,"titlePadding":4}}}}
    ]
   }]
  },
  {
   "title":{"text":"E","anchor":"start","frame":"bounds","fontSize":12,"dx":-12,"offset":-8},
   "vconcat":[{
    "width":177,"height":167.2,
    "title":{"text":"GEPIA-overall survival","fontSize":9.5,"offset":4.2},
    "view":{"stroke":"#444","strokeWidth":1},
    "layer":[
     {"encoding":{
       "x":{"field":"month","type":"quantitative","scale":{"domain":[-0.9,95.7],"nice":false,"zero":false},"axis":{"values":[0,20,40,60,80],"title":"Months","domain":false,"tickSize":4,"labelPadding":4,"titlePadding":7}},
       "y":{"field":"surv","type":"quantitative","scale":{"domain":[-0.047,1.024],"nice":false,"zero":false},"axis":{"values":[0,0.2,0.4,0.6,0.8,1.0],"format":".1f","title":"Survival","domain":false,"tickSize":4,"titlePadding":4}},
       "color":{"field":"group","type":"nominal","scale":{"domain":["Low DBH-AS1 TPM","High DBH-AS1 TPM"],"range":["#1414ff","#ff1414"]},"legend":{"orient":"none","legendX":90,"legendY":0.8,"title":null,"symbolType":"M-2,0H2","symbolStrokeWidth":1.5,"symbolSize":49,"labelFontSize":7.8,"rowPadding":-1,"labelOffset":4}}
      },
      "layer":[
       {"data":{"name":"ciE"},"mark":{"type":"line","interpolate":"step-after","strokeWidth":0.9,"strokeDash":[1.5,1.5],"opacity":0.5},"encoding":{"detail":{"field":"bound"}}},
       {"data":{"name":"kmE"},"mark":{"type":"line","interpolate":"step-after","strokeWidth":1.5}},
       {"data":{"name":"censE"},"mark":{"type":"tick","orient":"vertical","size":6,"thickness":0.9,"opacity":0.8}}
      ]},
     {"data":{"values":[{}]},"mark":{"type":"text","align":"right","baseline":"top","fontSize":7.2,"lineHeight":7.5,"color":"#222","text":["Logrank P=0.0088","HR (high) =0.57","P (HR) =0.0096","n (high) =88","n (low) =88"]},"encoding":{
       "x":{"datum":95,"type":"quantitative","scale":{"domain":[-0.9,95.7],"nice":false,"zero":false},"axis":{"values":[0,20,40,60,80],"title":"Months","domain":false,"tickSize":4,"labelPadding":4,"titlePadding":7}},
       "y":{"datum":0.91,"type":"quantitative","scale":{"domain":[-0.047,1.024],"nice":false,"zero":false},"axis":{"values":[0,0.2,0.4,0.6,0.8,1.0],"format":".1f","title":"Survival","domain":false,"tickSize":4,"titlePadding":4}}}}
    ]
   }]
  }
 ]}
]
}
